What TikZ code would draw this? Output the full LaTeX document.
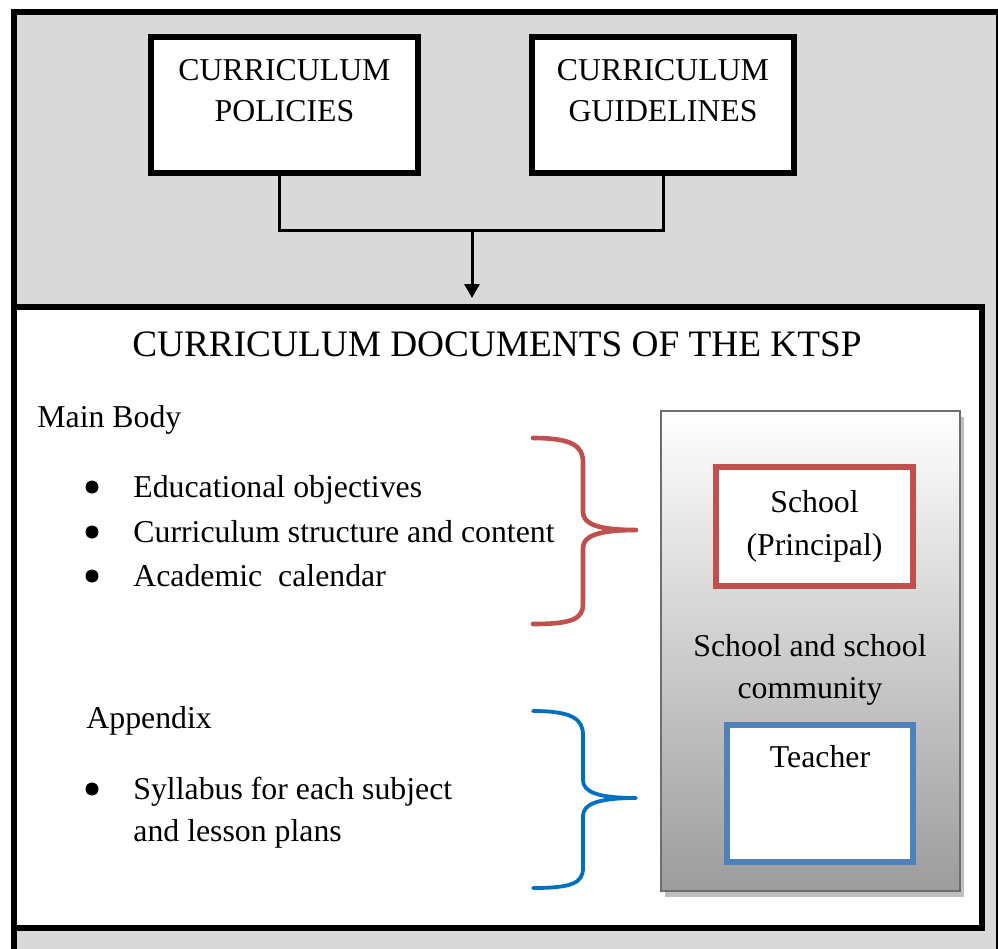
\documentclass[tikz,border=0pt]{standalone}
\usepackage{fontspec}
\setmainfont{Liberation Serif}
\usetikzlibrary{positioning}
\usetikzlibrary{shadows}
\usetikzlibrary{arrows.meta}
\tikzstyle{line} = [draw, line width=1.5pt, -{Triangle[width=7.5pt,length=7pt]}]
\definecolor{framegray}{HTML}{D9D9D9}
\definecolor{redbox}{HTML}{C0504D}
\definecolor{bluebox}{HTML}{4F81BD}
\definecolor{bluebrace}{HTML}{0070C0}
\definecolor{panelgray}{HTML}{9C9C9C}
\definecolor{paneledge}{HTML}{6E6E6E}
\definecolor{shadowgray}{HTML}{BFBFBF}

\begin{document}
\begin{tikzpicture}[x=0.5pt, y=-0.5pt,
				txt/.style = {font=\fontsize{15.9}{20.5}\selectfont, inner sep=0pt},
				topbox/.style = {draw, line width=3pt, fill=white,
					minimum width=#1, minimum height=68pt, inner sep=0pt},
				colbox/.style = {draw=#1, line width=3pt, fill=white, inner sep=0pt,
					font=\fontsize{15.9}{21.5}\selectfont, align=center},
				dot/.style = {circle, fill, inner sep=0pt, minimum size=6.5pt},
				curly/.style = {line width=#1, line cap=round, line join=round}]
				
				\useasboundingbox (0,0) rectangle (998,949);
				\clip (0,0) rectangle (998,949);
				
				% Outer frame
				\draw[line width=3pt, fill=framegray] (14,12) rectangle (999,975);
				
				% Top boxes
				\node[topbox=133.5pt] (policies) at (284.5,105) {};
				\node[txt, align=center, below=12.5pt of policies.north] (policiestext) {CURRICULUM\\POLICIES};
				\node[topbox=131pt] (guidelines) at (663,105) {};
				\node[txt, align=center, below=12.5pt of guidelines.north] (guidelinestext) {CURRICULUM\\GUIDELINES};
				
				% Documents box
				\node[draw, line width=3pt, fill=white, minimum width=484pt,
					minimum height=310.5pt] (docs) at (498,617.5) {};
				\node[font=\fontsize{18.65}{22}\selectfont, inner sep=0pt, anchor=base] (title) at (497,356)
					{CURRICULUM DOCUMENTS OF THE KTSP};
				
				% Connector
				\coordinate (join) at (472,230);
				\draw[line width=1.5pt] ([xshift=-2.5pt]policies.south) |- (join) -| (guidelines.south);
				\path[line, shorten >=3pt] (join) -- (join |- docs.north);
				
				% Main body
				\node[txt, anchor=base west] (mainbody) at (37,427) {Main Body};
				\foreach \y/\entry in {497/Educational objectives,
					542/Curriculum structure and content,
					586/Academic\ \ calendar}{
					\node[dot] (dot-\y) at (92,\y-10) {};
					\node[txt, anchor=base west] (item-\y) at (133,\y) {\entry};
				}
				
				% Appendix
				\node[txt, anchor=base west] (appendix) at (86,728) {Appendix};
				\node[dot] (dot-799) at (92,789) {};
				\node[txt, anchor=base west] (item-799) at (133,799) {Syllabus for each subject};
				\node[txt, anchor=base west] (item-841) at (133,841) {and lesson plans};
				
				% Braces
				\draw[curly=2.3pt, redbox] (533,438) .. controls (572,438) and (583,446) .. (583,462)
					-- (583,512) .. controls (583,524) and (598,530) .. (636,530)
					.. controls (598,530) and (583,536) .. (583,548)
					-- (583,604) .. controls (583,619) and (572,624) .. (533,624);
				\draw[curly=1.9pt, bluebrace] (533,711) .. controls (572,711) and (583,719) .. (583,735)
					-- (583,780) .. controls (583,792) and (598,798) .. (636,798)
					.. controls (598,798) and (583,804) .. (583,816)
					-- (583,868) .. controls (583,883) and (572,888) .. (533,888);
				
				% School panel
				\node[draw=paneledge, line width=1.2pt, top color=white, bottom color=panelgray,
					minimum width=149.5pt, minimum height=240pt,
					drop shadow={shadow xshift=2pt, shadow yshift=-3pt, fill=shadowgray, opacity=1}]
					(panel) at (810.5,651) {};
				\node[colbox=redbox, minimum width=98.5pt, minimum height=59.5pt]
					(principal) at (814.5,526.5) {School\\(Principal)};
				\node[txt, align=center, font=\fontsize{15.9}{21}\selectfont] (community) at (810,670)
					{School and school\\community};
				\node[colbox=bluebox, minimum width=93pt, minimum height=68.5pt]
					(teacher) at (820,793.5) {};
				\node[txt, below=11.5pt of teacher.north] (teachertext) {Teacher};
				
\end{tikzpicture}
\end{document}
